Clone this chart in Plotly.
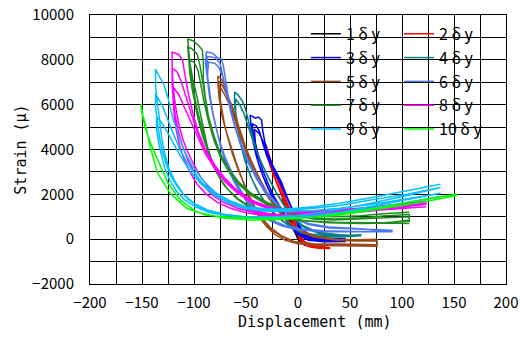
import plotly.graph_objects as go

# ---- data: (displacement mm, strain μ) paths for each amplitude ----
loop_1 = [(8,-250),(4,-150),(0,150),(-4,550),(-8,950),(-12,1400),(-15,1850),
          (-12,1350),(-8,850),(-4,400),(0,0),(4,-200),(8,-250),
          (4,-120),(0,200),(-4,600),(-8,1000),(-12,1450),(-15,1800),
          (-11,1200),(-7,750),(-3,300),(1,-50),(5,-230),(8,-280)]

loop_2 = [(31,-380),(20,-330),(12,-260),(6,-150),(2,150),(-2,600),(-6,1050),(-10,1500),(-14,1950),(-18,2450),(-23,3050),(-27,3650),(-31,4240),
          (-30,3800),(-27,3300),(-23,2800),(-19,2300),(-15,1850),(-11,1400),(-7,950),(-3,450),(1,50),(6,-250),(12,-350),(20,-400),(31,-420),
          (20,-300),(12,-220),(6,-100),(2,200),(-2,650),(-6,1100),(-10,1550),(-14,2000),(-18,2450),(-22,2950),(-26,3500),(-30,4000),
          (-28,3550),(-25,3100),(-21,2600),(-17,2150),(-13,1700),(-9,1250),(-5,800),(-1,300),(3,-100),(8,-280),(15,-330),(31,-380)]

loop_3 = [(46,-50),(30,-80),(15,0),(5,250),(0,600),(-4,1100),(-8,1600),(-12,2100),(-16,2550),(-21,3000),(-25,3350),(-29,3800),(-32,4350),(-34,4870),(-35,5310),(-38,5450),(-41,5400),(-46,5530),
          (-45,4900),(-43,4300),(-40,3700),(-36,3100),(-31,2500),(-25,1900),(-19,1400),(-13,950),(-7,550),(0,200),(10,-50),(25,-120),(46,-100),
          (30,-40),(15,50),(5,300),(0,650),(-5,1250),(-10,1800),(-15,2300),(-20,2750),(-25,3200),(-30,3700),(-34,4300),(-37,4800),(-40,5050),(-44,5150),
          (-43,4600),(-41,4000),(-38,3400),(-34,2850),(-29,2300),(-23,1750),(-17,1300),(-11,900),(-5,550),(2,200),(12,0),(28,-50),(46,-30),
          (30,20),(15,120),(5,380),(0,700),(-5,1300),(-10,1850),(-15,2350),(-20,2800),(-25,3250),(-29,3750),(-33,4300),(-37,4700),(-42,4900),
          (-41,4300),(-38,3700),(-34,3100),(-29,2500),(-23,1900),(-17,1400),(-11,950),(-5,600),(2,250),(12,50),(28,0),(46,30)]

loop_4 = [(61,200),(40,150),(20,250),(5,550),(-5,950),(-12,1400),(-20,2000),(-28,2700),(-35,3400),(-41,4100),(-45,4800),(-49,5620),(-51,5890),(-54,6200),(-58,6450),(-61,6560),
          (-61,6000),(-60,5500),(-58,4900),(-55,4200),(-51,3500),(-46,2850),(-40,2250),(-33,1700),(-25,1250),(-16,850),(-6,500),(5,250),(20,100),(40,100),(61,150),
          (40,200),(20,300),(5,600),(-5,1000),(-13,1500),(-21,2100),(-29,2800),(-36,3500),(-42,4200),(-47,4900),(-52,5600),(-56,6000),(-60,6250),
          (-60,5700),(-58,5100),(-56,4500),(-53,3900),(-49,3250),(-44,2650),(-38,2100),(-31,1600),(-23,1150),(-14,800),(-4,480),(8,250),(25,150),(45,150),(61,200)]

loop_5 = [(76,0),(55,-30),(35,0),(15,150),(0,450),(-10,850),(-20,1400),(-30,2100),(-38,2800),(-45,3500),(-51,4200),(-56,4900),(-60,5450),(-63,5900),(-67,6340),(-70,6740),(-73,7100),(-77,7280),
          (-77,6960),(-76,6340),(-74,5760),(-72,5310),(-69,4800),(-65,4200),(-60,3500),(-55,2850),(-49,2050),(-43,1400),(-37,950),(-30,550),(-22,200),(-12,-50),(0,-200),(20,-280),(45,-300),(76,-320),
          (76,-50),(55,-60),(35,-20),(15,120),(0,420),(-10,820),(-20,1350),(-30,2000),(-38,2700),(-45,3400),(-51,4100),(-56,4800),(-60,5400),(-64,5900),(-68,6400),(-72,6800),(-76,7050),
          (-76,6600),(-75,6050),(-73,5500),(-70,4950),(-67,4400),(-63,3800),(-58,3150),(-52,2450),(-46,1800),(-40,1250),(-33,800),(-25,400),(-15,100),(-3,-120),(15,-230),(40,-260),(76,-280),
          (76,-80),(55,-80),(35,-40),(15,100),(0,400),(-10,800),(-20,1300),(-30,1950),(-38,2600),(-45,3300),(-51,4000),(-56,4700),(-61,5350),(-65,5900),(-70,6400),(-75,6800),
          (-75,6300),(-73,5700),(-71,5200),(-68,4600),(-64,4000),(-59,3300),(-53,2600),(-47,1950),(-41,1400),(-34,900),(-26,500),(-16,150),(-4,-100),(15,-200),(40,-220),(76,-250)]

loop_6 = [(91,400),(60,450),(30,500),(10,650),(-5,950),(-18,1400),(-30,2000),(-40,2700),(-49,3500),(-56,4300),(-60,4900),(-63,5450),(-67,6340),(-70,7230),(-72,7800),(-74,8050),(-77,8080),(-82,8300),(-88,8350),
          (-89,7860),(-87,7100),(-85,6340),(-82,5620),(-78,4800),(-74,4050),(-69,3350),(-63,2700),(-56,2100),(-48,1600),(-39,1200),(-28,850),(-16,600),(0,420),(25,330),(55,320),(91,330),
          (60,460),(30,520),(10,680),(-5,980),(-18,1450),(-30,2050),(-40,2750),(-49,3550),(-56,4350),(-61,5050),(-65,5750),(-69,6600),(-72,7350),(-75,7850),(-80,8100),(-87,8150),
          (-88,7600),(-86,6900),(-84,6200),(-81,5450),(-77,4650),(-72,3900),(-67,3250),(-61,2600),(-54,2050),(-46,1550),(-37,1150),(-26,850),(-14,600),(2,430),(25,350),(55,330),(91,350),
          (60,470),(30,540),(10,700),(-5,1000),(-18,1480),(-30,2100),(-40,2800),(-49,3600),(-56,4400),(-61,5100),(-65,5800),(-69,6600),(-72,7200),(-76,7650),(-80,7850),(-86,7900),
          (-87,7300),(-85,6600),(-83,5900),(-80,5200),(-76,4450),(-71,3750),(-65,3100),(-59,2500),(-52,1950),(-44,1500),(-35,1100),(-24,820),(-12,600),(3,450),(25,370),(55,340),(91,360)]

loop_7 = [(107,1200),(85,1150),(60,1050),(35,1000),(15,1050),(0,1150),(-15,1350),(-30,1650),(-45,2050),(-57,2550),(-67,3150),(-75,3850),(-81,4650),(-86,5450),(-89,6300),(-91,7100),(-91,7860),(-92,8440),(-96,8660),(-101,8850),(-106,8930),
          (-105,8300),(-104,7860),(-101,7100),(-97,6340),(-94,5620),(-91,4900),(-87,4100),(-82,3400),(-76,2800),(-69,2300),(-60,1850),(-48,1450),(-33,1150),(-15,950),(5,820),(30,730),(60,700),(85,720),(107,850),
          (107,1100),(85,1050),(60,950),(35,900),(15,950),(0,1080),(-15,1300),(-30,1600),(-45,2000),(-57,2500),(-67,3100),(-75,3800),(-81,4600),(-86,5400),(-89,6200),(-92,7000),(-94,7700),(-97,8250),(-102,8500),(-106,8570),
          (-105,8000),(-103,7300),(-100,6550),(-97,5800),(-93,5050),(-89,4300),(-84,3600),(-78,2950),(-71,2400),(-62,1950),(-51,1550),(-37,1200),(-20,980),(0,850),(25,760),(55,720),(85,740),(107,800),
          (107,1000),(85,950),(60,880),(35,850),(15,900),(0,1030),(-15,1250),(-30,1550),(-45,1950),(-57,2450),(-67,3050),(-75,3700),(-81,4450),(-86,5250),(-90,6050),(-93,6850),(-96,7500),(-100,7900),(-105,7990),
          (-104,7400),(-102,6750),(-99,6050),(-96,5350),(-92,4650),(-87,3950),(-82,3300),(-75,2700),(-67,2200),(-57,1780),(-45,1420),(-30,1120),(-12,930),(8,820),(35,760),(70,730),(107,700)]

loop_8 = [(123,1700),(95,1550),(65,1400),(35,1300),(10,1250),(-10,1300),(-28,1450),(-45,1750),(-58,2150),(-70,2700),(-80,3300),(-89,4000),(-96,4800),(-101,5600),(-105,6400),(-109,7410),(-111,7990),(-115,8250),(-121,8350),
          (-121,7540),(-120,6800),(-118,6000),(-115,5200),(-111,4500),(-107,4000),(-101,3400),(-94,2800),(-86,2300),(-76,1900),(-63,1550),(-47,1300),(-28,1130),(-8,1060),(20,1100),(50,1250),(85,1450),(123,1650),
          (95,1500),(65,1350),(35,1250),(10,1200),(-10,1250),(-28,1400),(-45,1700),(-58,2100),(-70,2650),(-80,3250),(-89,3950),(-96,4700),(-102,5500),(-107,6300),(-112,7000),(-116,7450),(-121,7630),
          (-121,6900),(-120,6200),(-118,5500),(-115,4800),(-111,4150),(-106,3550),(-100,3000),(-92,2450),(-83,2000),(-72,1650),(-58,1380),(-41,1180),(-22,1070),(0,1030),(25,1080),(55,1200),(90,1380),(123,1550),
          (123,1600),(95,1450),(65,1300),(35,1200),(10,1150),(-10,1200),(-28,1350),(-45,1650),(-58,2050),(-70,2550),(-80,3150),(-89,3800),(-96,4500),(-103,5200),(-109,5850),(-114,6400),(-120,6790),
          (-120,6150),(-119,5500),(-117,4850),(-114,4200),(-110,3600),(-104,3000),(-97,2450),(-88,2000),(-78,1650),(-65,1380),(-49,1170),(-30,1050),(-10,1000),(15,1030),(45,1150),(80,1300),(123,1450)]

loop_9 = [(137,2450),(105,2150),(70,1850),(40,1600),(15,1450),(-10,1350),(-30,1350),(-50,1450),(-65,1700),(-80,2100),(-92,2650),(-102,3300),(-110,4000),(-116,4800),(-121,5500),(-125,6300),(-129,6900),(-133,7230),(-137,7590),
          (-137,6800),(-135,6000),(-133,5200),(-131,4500),(-128,3800),(-124,3150),(-118,2550),(-110,2000),(-100,1600),(-87,1300),(-70,1100),(-50,1000),(-25,1000),(0,1050),(30,1250),(70,1600),(105,1950),(137,2300),
          (105,2000),(70,1750),(40,1500),(15,1380),(-10,1300),(-30,1300),(-50,1400),(-66,1650),(-80,2000),(-93,2550),(-103,3150),(-112,3850),(-119,4600),(-125,5300),(-130,5900),(-134,6250),(-137,6500),
          (-137,5900),(-135,5200),(-133,4500),(-130,3850),(-126,3250),(-121,2700),(-114,2200),(-105,1750),(-94,1400),(-80,1170),(-62,1030),(-40,960),(-15,960),(10,1020),(40,1200),(75,1500),(110,1800),(137,2050),
          (105,1800),(70,1550),(40,1380),(15,1280),(-10,1230),(-30,1250),(-50,1350),(-66,1600),(-80,1950),(-93,2450),(-104,3050),(-113,3700),(-120,4300),(-127,4900),(-132,5250),(-136,5450),
          (-136,4900),(-134,4300),(-131,3700),(-128,3150),(-123,2600),(-117,2150),(-109,1750),(-99,1450),(-86,1200),(-70,1050),(-50,960),(-25,940),(0,980),(30,1100),(65,1350),(100,1600),(137,1900)]

loop_10 = [(153,2000),(125,1800),(95,1550),(65,1300),(35,1100),(10,950),(-20,880),(-46,850),(-72,940),(-97,1200),(-113,1740),(-125,2500),(-136,3660),(-143,4420),(-147,5000),(-150,5600),(-151,6030),
           (-149,5500),(-147,5180),(-142,4100),(-135,2950),(-123,2050),(-107,1380),(-88,1070),(-65,980),(-40,930),(-15,930),(10,960),(40,1080),(70,1280),(100,1500),(130,1750),(153,1950)]

series_names = ["1 δ y", "2 δ y", "3 δ y", "4 δ y", "5 δ y", "6 δ y", "7 δ y", "8 δ y", "9 δ y", "10 δ y"]
series_colors = ["#000000", "#FF0000", "#0000FF", "#008080", "#9C4A1A",
                 "#4A78F0", "#1E8C1E", "#FF00FF", "#00C0FF", "#00FF00"]
loops = [loop_1, loop_2, loop_3, loop_4, loop_5, loop_6, loop_7, loop_8, loop_9, loop_10]

fig = go.Figure()
for i, (nm, col, lp) in enumerate(zip(series_names, series_colors, loops)):
    fig.add_trace(go.Scatter(
        x=[p[0] for p in lp], y=[p[1] for p in lp], mode="lines", name=nm,
        line=dict(color=col, width=1.5),
        legend="legend" if i % 2 == 0 else "legend2",
    ))

axis_common = dict(
    showgrid=True, gridcolor="black", gridwidth=1,
    showline=True, linecolor="black", linewidth=1, mirror="ticks",
    ticks="inside", ticklen=5, tickcolor="black", zeroline=False,
    automargin=False, tickformat="d", ticklabeloverflow="allow",
    tickfont=dict(family="Noto Sans CJK JP", size=15, color="black"),
)

fig.update_layout(
    width=522, height=338,
    margin=dict(l=90, r=16, t=15, b=54, autoexpand=False),
    paper_bgcolor="white", plot_bgcolor="white",
    font=dict(family="Noto Sans CJK JP", size=15, color="black"),
    xaxis=dict(range=[-200, 200], dtick=50, tick0=0,
               minor=dict(dtick=25, showgrid=True, gridcolor="black", ticks="inside", ticklen=5, tickcolor="black"),
               ticklabelstandoff=5, **axis_common),
    yaxis=dict(range=[-2000, 10000], dtick=2000, tick0=0,
               minor=dict(dtick=1000, showgrid=True, gridcolor="black", ticks="inside", ticklen=5, tickcolor="black"),
               title=dict(text="Strain (μ)", standoff=2,
                          font=dict(family="DejaVu Sans Mono", size=15, color="black")),
               ticklabelstandoff=12, **axis_common),
    legend=dict(x=0.519, y=0.993, xanchor="left", yanchor="top", bgcolor="rgba(0,0,0,0)",
                font=dict(family="Noto Sans CJK JP", size=16, color="black"), tracegroupgap=0),
    legend2=dict(x=0.7428, y=0.993, xanchor="left", yanchor="top", bgcolor="rgba(0,0,0,0)",
                 font=dict(family="Noto Sans CJK JP", size=16, color="black"), tracegroupgap=0),
    shapes=[dict(type="rect", xref="paper", yref="paper", x0=0.534, x1=1, y0=0.509, y1=1,
                 fillcolor="white", line=dict(width=0), layer="between")],
    annotations=[dict(text="Displacement (mm)", xref="paper", yref="paper", x=0.541, y=-0.141,
                      xanchor="center", yanchor="middle", showarrow=False,
                      font=dict(family="DejaVu Sans Mono", size=15, color="black"))],
    showlegend=True,
)

# remove the page's default body margin so the 522x338 figure fills the window
fig.write_html("out.html", config={"displayModeBar": False},
               post_script="document.body.style.margin='0';")
